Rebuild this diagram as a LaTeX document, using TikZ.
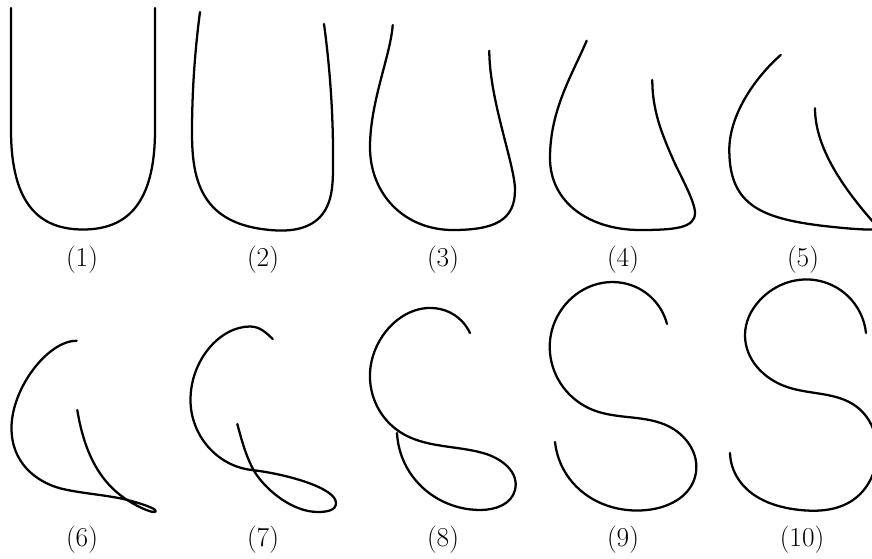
\documentclass[tikz,border=0pt]{standalone}
\usetikzlibrary{hobby}
\begin{document}
\begin{tikzpicture}[x=0.75pt,y=-0.75pt,
  curve/.style={line width=1.7pt,line cap=round,line join=round},
  hcurve/.style={curve,use Hobby shortcut},
  lab/.style={font=\fontsize{20.5}{24}\selectfont,inner sep=0pt}]
\useasboundingbox (0,0) rectangle (872,559);
\clip (0,0) rectangle (872,559);
% (1)
\draw[curve] (11,8) -- (11,130) .. controls (11,205) and (40,229.5) .. (83,229.5) .. controls (126,229.5) and (155,205) .. (155,130) -- (155,8);
% (2)
\draw[hcurve] (200,12) .. (192,130) .. (213,207) .. (270,230) .. (320,217) .. (333,170) .. (324,24);
% (3)
\draw[curve] (392.7,25) .. controls (390.7,55) and (370,102) .. (370,147)
  .. controls (370,195) and (405,230) .. (453,230)
  .. controls (495,230) and (515,220) .. (515,190)
  .. controls (515,165) and (489.3,100) .. (489.3,50.7);
% (4)
\draw[curve] (586.7,40.7) .. controls (572,75) and (550,110) .. (550,158)
  .. controls (550,203) and (590,230) .. (640,230)
  .. controls (675,230) and (695,228) .. (695,213)
  .. controls (695,201) and (679.3,173.7) .. (673.3,160)
  .. controls (661.3,132.7) and (652.3,110) .. (652.3,80);
% (5)
\draw[curve] (780.7,55) .. controls (754.5,78.1) and (729.3,115) .. (729.3,150)
  .. controls (729.3,210) and (766.7,221.1) .. (846.7,228.3)
  .. controls (858,229.3) and (866,229.6) .. (874,229.6)
  .. controls (879,229.6) and (877.3,226.8) .. (874,223)
  .. controls (844.3,189.25) and (815,148.3) .. (815,108.3);
% (6)
\draw[curve] (76.7,340.7) .. controls (48,340.7) and (11.5,388) .. (11.5,428)
  .. controls (11.5,463) and (36,481.55) .. (60,488.3)
  .. controls (80,493.3) and (103.3,494.6) .. (123.3,499)
  .. controls (136,501.8) and (148,506) .. (153,508.5)
  .. controls (156.6,510.3) and (157,513) .. (152,511.8)
  .. controls (145,510.1) and (135,505) .. (128,500.5)
  .. controls (98.3,482) and (83.7,449.6) .. (77.3,410);
% (7)
\draw[curve] (272.7,339) .. controls (266.2,332.8) and (260,326.5) .. (250,326.5)
  .. controls (220,326.5) and (190.5,360) .. (190.5,400)
  .. controls (190.5,435) and (216.7,466) .. (251.7,470)
  .. controls (286.7,474) and (336,488) .. (336,503)
  .. controls (336,510) and (328,512) .. (318,512)
  .. controls (293,512) and (268.1,491.4) .. (256.7,475)
  .. controls (246.4,460.2) and (240.5,435.5) .. (237.3,424);
% (8)
\draw[hcurve] (470,333) .. (440,309) .. (380,340) .. (370,373) .. (400,432) .. (483,453) .. (515,490) .. (480,510) .. (413,477) .. (397,433);
% (9)
\draw[hcurve] (667,324) .. (623,283) .. (557,317) .. (550,353) .. (593,410) .. (670,427) .. (695,477) .. (647,510) .. (573,483) .. (555,442);
% (10)
\draw[hcurve] (866,333) .. (820,281) .. (760,300) .. (745,335) .. (787,387) .. (857,407) .. (877,455) .. (853,500) .. (800,510) .. (737,477) .. (730,453);
% labels
\node[lab] (l1) at (82,260) {(1)};
\node[lab] (l2) at (263,260) {(2)};
\node[lab] (l3) at (443,260) {(3)};
\node[lab] (l4) at (623,260) {(4)};
\node[lab] (l5) at (803,260) {(5)};
\node[lab] (l6) at (82,540) {(6)};
\node[lab] (l7) at (263,540) {(7)};
\node[lab] (l8) at (443,540) {(8)};
\node[lab] (l9) at (623,540) {(9)};
\node[lab] (l10) at (802,540) {(10)};
\end{tikzpicture}
\end{document}
